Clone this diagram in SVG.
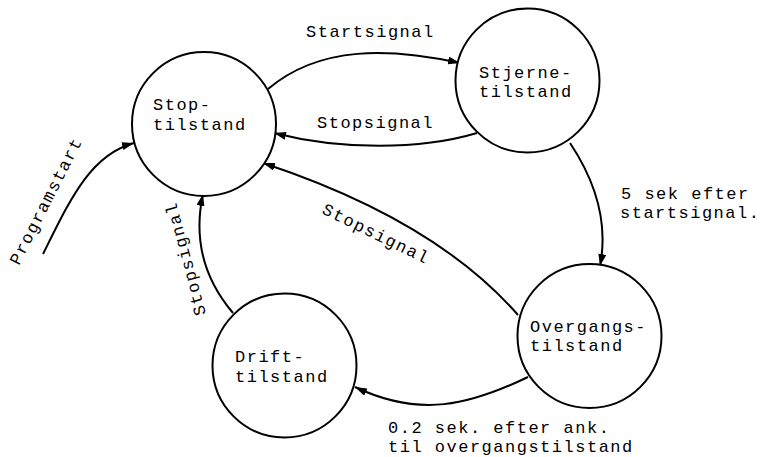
<svg xmlns="http://www.w3.org/2000/svg" width="760" height="457" viewBox="0 0 760 457">
<style>
.st{fill:#fff;stroke:#000;stroke-width:2}
.t{font-family:"Liberation Mono","Courier New",monospace;font-size:17px;letter-spacing:1.5px;fill:#000}
.c{fill:none;stroke:#000;stroke-width:2}
</style>
<defs>
<marker id="ah" viewBox="0 0 12 8" refX="12" refY="4" markerWidth="12" markerHeight="8" markerUnits="userSpaceOnUse" orient="auto">
<path d="M0,0 L12,4 L0,8 Z" fill="#000"/>
</marker>
</defs>
<rect width="760" height="457" fill="#fff"/>
<g id="connectors">
<path class="c" marker-end="url(#ah)" d="M43,254 C70,200 90,155 134,143"/>
<path class="c" marker-end="url(#ah)" d="M268,89 C320,45 390,48 460,63"/>
<path class="c" marker-end="url(#ah)" d="M477,133 C420,150 340,150 274,133"/>
<path class="c" marker-end="url(#ah)" d="M570,143 C598,185 608,225 600,266"/>
<path class="c" marker-end="url(#ah)" d="M518,315 C470,260 390,205 263,163"/>
<path class="c" marker-end="url(#ah)" d="M233,313 C205,280 193,240 203,194"/>
<path class="c" marker-end="url(#ah)" d="M528,377 C470,405 420,418 355,387"/>
</g>
<g id="stop"><circle class="st" cx="204" cy="124" r="72"/><text class="t" x="153" y="110">Stop-</text><text class="t" x="153" y="130">tilstand</text></g>
<g id="stjerne"><circle class="st" cx="527.5" cy="80.5" r="72"/><text class="t" x="479" y="78">Stjerne-</text><text class="t" x="479" y="97">tilstand</text></g>
<g id="overgang"><circle class="st" cx="589.5" cy="336" r="72"/><text class="t" x="530" y="332">Overgangs-</text><text class="t" x="530" y="351">tilstand</text></g>
<g id="drift"><circle class="st" cx="284.5" cy="365.5" r="72"/><text class="t" x="235" y="362">Drift-</text><text class="t" x="235" y="382">tilstand</text></g>
<g id="labels">
<text class="t" x="306" y="37">Startsignal</text>
<text class="t" x="317" y="128">Stopsignal</text>
<text class="t" x="621" y="199">5 sek efter</text>
<text class="t" x="620" y="218">startsignal.</text>
<text class="t" x="388" y="433">0.2 sek. efter ank.</text>
<text class="t" x="388" y="452">til overgangstilstand</text>
<text class="t" transform="translate(19,266) rotate(-63)">Programstart</text>
<text class="t" transform="translate(206,314) rotate(-105)">Stopsignal</text>
<text class="t" transform="translate(321,213) rotate(26)">Stopsignal</text>
</g>
</svg>
